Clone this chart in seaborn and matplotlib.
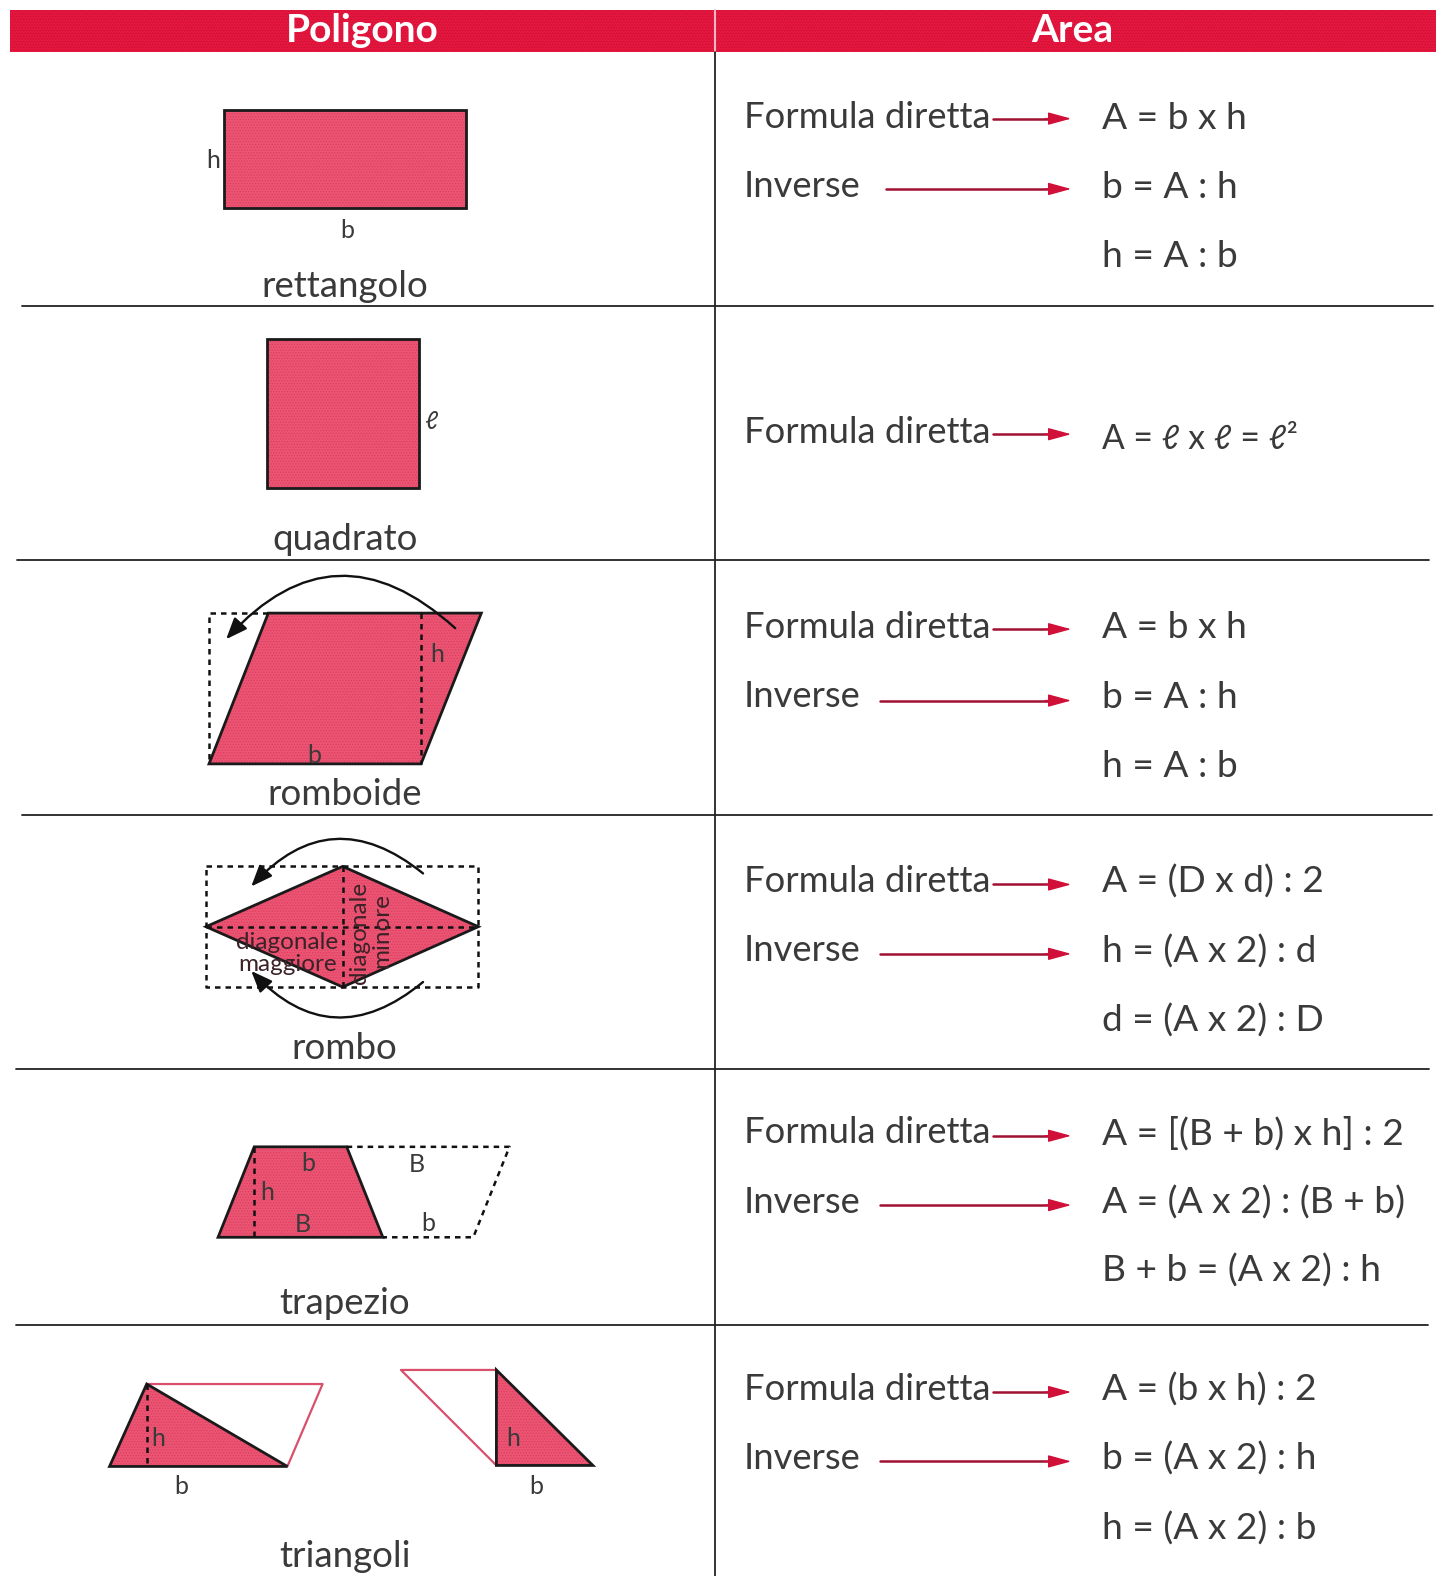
import matplotlib
matplotlib.use("Agg")
import matplotlib.pyplot as plt
import seaborn as sns
from matplotlib.patches import Polygon, Rectangle, FancyArrowPatch

# ---- content ----
headers = ["Poligono", "Area"]
shape_names = ["rettangolo", "quadrato", "romboide", "rombo", "trapezio", "triangoli"]
name_y = [284, 536, 789, 1042, 1296, 1548]
formula_rows = [
    [("Formula diretta", 116, 118, 988, "A = b x h", 116), ("Inverse", 185, 188, 882, "b = A : h", 185), (None, 0, 0, 0, "h = A : b", 254)],
    [("Formula diretta", 429, 432, 988, "A = ℓ x ℓ = ℓ²", 435)],
    [("Formula diretta", 623, 626, 988, "A = b x h", 623), ("Inverse", 692, 697, 876, "b = A : h", 692), (None, 0, 0, 0, "h = A : b", 761)],
    [("Formula diretta", 876, 880, 988, "A = (D x d) : 2", 876), ("Inverse", 945, 949, 876, "h = (A x 2) : d", 945), (None, 0, 0, 0, "d = (A x 2) : D", 1014)],
    [("Formula diretta", 1126, 1130, 988, "A = [(B + b) x h] : 2", 1126), ("Inverse", 1195, 1199, 876, "A = (A x 2) : (B + b)", 1195), (None, 0, 0, 0, "B + b = (A x 2) : h", 1263)],
    [("Formula diretta", 1381, 1385, 988, "A = (b x h) : 2", 1381), ("Inverse", 1450, 1454, 876, "b = (A x 2) : h", 1450), (None, 0, 0, 0, "h = (A x 2) : b", 1519)],
]
rule_y = [304, 557, 811, 1064, 1318]
rule_x0 = [22, 17, 22, 16, 16]
rule_x1 = [1426, 1422, 1425, 1422, 1421]
filled_shapes = [
    [(223, 109), (464, 109), (464, 207), (223, 207)],
    [(266, 337), (417, 337), (417, 486), (266, 486)],
    [(267, 610), (479, 610), (419, 760), (208, 760)],
    [(205, 922), (341, 862), (476, 922), (341, 982)],
    [(253, 1141), (345, 1141), (381, 1231), (217, 1231)],
    [(146, 1377), (286, 1459), (109, 1459)],
    [(494, 1363), (590, 1458), (494, 1458)],
]
dashed_paths = [
    [(267, 610), (208, 610), (208, 760)],
    [(419, 610), (419, 760)],
    [(205, 862), (476, 862), (476, 982), (205, 982), (205, 862)],
    [(205, 922), (476, 922)],
    [(341, 862), (341, 982)],
    [(345, 1141), (507, 1141), (471, 1231), (381, 1231)],
    [(253, 1141), (253, 1231)],
    [(146, 1377), (146, 1459)],
]
pink_paths = [
    [(146, 1377), (321, 1377), (286, 1459)],
    [(494, 1363), (399, 1363), (494, 1458)],
]
curved_arrows = [
    ((453, 625), (225, 636), 0.5),
    ((421, 869), (250, 882), 0.47),
    ((421, 977), (250, 966), -0.47),
]
small_labels = [
    ("h", 212, 160), ("b", 346, 229), ("ℓ", 429, 419),
    ("h", 435, 651), ("b", 313, 752),
    ("b", 307, 1158), ("B", 415, 1159), ("h", 266, 1186), ("B", 301, 1218), ("b", 426, 1217),
    ("h", 157, 1431), ("b", 180, 1479), ("h", 511, 1431), ("b", 534, 1479),
]
diag_labels = [("diagonale", 286, 938, 0), ("maggiore", 286, 960, 0), ("diagonale", 358, 928, 90), ("minore", 380, 926, 90)]

# ---- style ----
RED = "#e5173f"
PINK = "#ea5573"
INK = "#3a3a3a"
sns.set_theme(style="white")
plt.rcParams["font.family"] = ["Lato", "DejaVu Sans"]
plt.rcParams["hatch.linewidth"] = 0.6

fig = plt.figure(figsize=(14.44, 15.76), dpi=100)
ax = fig.add_axes([0, 0, 1, 1])
ax.set_xlim(0, 1437)
ax.set_ylim(1568, 0)
ax.axis("off")

def path(pts, **kw):
    sns.lineplot(x=[p[0] for p in pts], y=[p[1] for p in pts], sort=False, estimator=None,
                 ax=ax, legend=False, **kw)

# header
ax.add_patch(Rectangle((10, 10), 1419, 42, fc=RED, ec="#c90f35", lw=0, hatch="......"))
path([(712, 10), (712, 52)], color="#f6b5c2", lw=1.5)
ax.text(360, 30, headers[0], color="white", fontsize=28, fontweight="bold", ha="center", va="center")
ax.text(1067, 30, headers[1], color="white", fontsize=28, fontweight="bold", ha="center", va="center")

# rules
path([(712, 52), (712, 1568)], color="#222222", lw=1.3)
for y, x0, x1 in zip(rule_y, rule_x0, rule_x1):
    path([(x0, y), (x1, y)], color="#222222", lw=1.3)

# shapes
for pts in filled_shapes:
    ax.add_patch(Polygon(pts, closed=True, fc=PINK, ec="#e03c60", lw=0, hatch="......", zorder=2))
    ax.add_patch(Polygon(pts, closed=True, fc="none", ec="#1a1a1a", lw=2, zorder=2.5, joinstyle="miter"))
for pts in dashed_paths:
    path(pts, color="#111111", lw=1.8, linestyle=(0, (2.2, 2.0)), zorder=3)
for pts in pink_paths:
    path(pts, color="#d8506c", lw=1.6, zorder=1)
for a, b, rad in curved_arrows:
    ax.add_patch(FancyArrowPatch(a, b, connectionstyle=f"arc3,rad={rad}", arrowstyle="-|>,head_length=5,head_width=2",
                                 mutation_scale=2.6, color="#111111", lw=1.7, zorder=4, shrinkA=0, shrinkB=0))

# labels
for s, x, y in small_labels:
    ax.text(x, y, s, color=INK, fontsize=18, ha="center", va="center", zorder=5)
for s, x, y, rot in diag_labels:
    ax.text(x, y, s, color="#3c2228", fontsize=17.5, ha="center", va="center", rotation=rot, zorder=5)
for s, y in zip(shape_names, name_y):
    ax.text(343, y + 1, s, color=INK, fontsize=26.4, ha="center", va="center")

# formulas
for row in formula_rows:
    for label, ly, ay, ax0, formula, fy in row:
        if label:
            ax.text(740, ly + 1, label, color=INK, fontsize=26.2, ha="left", va="center")
            path([(ax0, ay), (1050, ay)], color="#a01030", lw=1.8)
            ax.add_patch(FancyArrowPatch((1040, ay), (1066, ay), arrowstyle="-|>,head_length=5.5,head_width=1.5",
                                         mutation_scale=2.6, color="#d01038", lw=1, shrinkA=0, shrinkB=0, zorder=4))
        size = 24.2 if "ℓ" in formula else 26.7
        ax.text(1097, fy + 1.5, formula, color=INK, fontsize=size, ha="left", va="center")

fig.savefig("out.png", dpi=100)
